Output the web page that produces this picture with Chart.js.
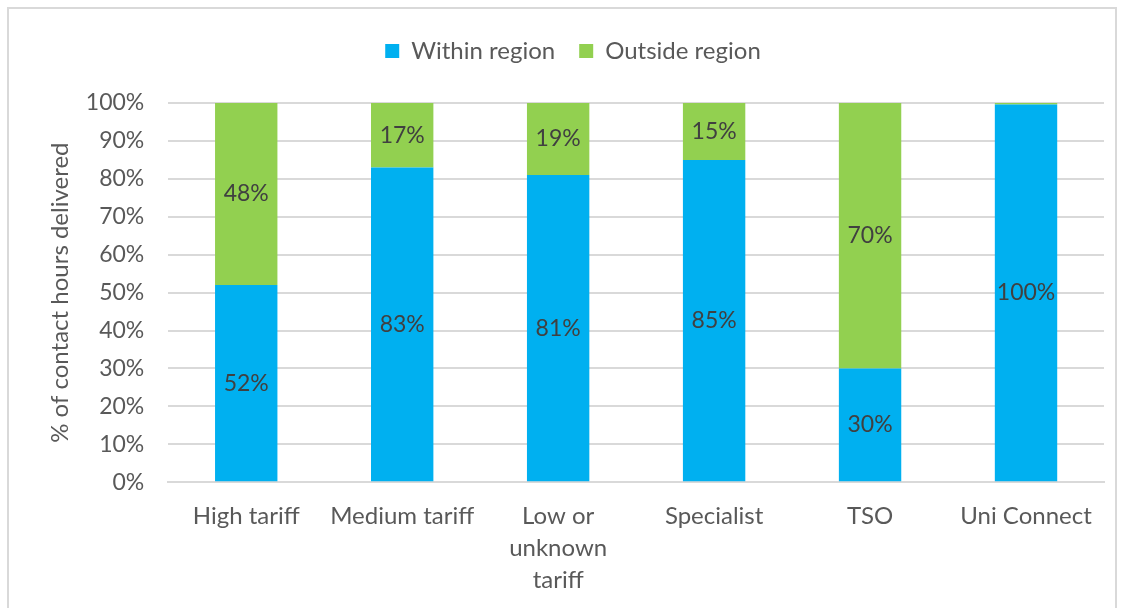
<!DOCTYPE html>
<html>
<head>
    <meta charset="utf-8">
    <title>Contact hours by region</title>
    <script src="https://cdn.jsdelivr.net/npm/chart.js"></script>
    <style>
        body { margin: 0; background: #fff; }
        #box { position: absolute; left: 7px; top: 7px; width: 1110px; height: 610px; border: 2px solid #d9d9d9; box-sizing: border-box; }
        #barChart { display: block; }
    </style>
</head>
<body>
<div id="box">
    <canvas id="barChart" width="1106" height="606"></canvas>
</div>

<script>
    const categories = ['High tariff', 'Medium tariff', ['Low or', 'unknown', 'tariff'], 'Specialist', 'TSO', 'Uni Connect'];
    const withinRegion = [52, 83, 81, 85, 30, 99.6];
    const outsideRegion = [48, 17, 19, 15, 70, 0.4];
    const yTicks = ['0%', '10%', '20%', '30%', '40%', '50%', '60%', '70%', '80%', '90%', '100%'];

    const font = "Lato, 'Open Sans', sans-serif";

    // draw the percentage inside each bar segment
    const barLabels = {
        id: 'barLabels',
        afterDatasetsDraw(chart) {
            const c = chart.ctx;
            c.save();
            c.font = '23px ' + font;
            c.fillStyle = '#404040';
            c.textAlign = 'center';
            c.textBaseline = 'middle';
            chart.data.datasets.forEach((ds, i) => {
                chart.getDatasetMeta(i).data.forEach((bar, j) => {
                    const v = ds.data[j];
                    if (v < 1) return;
                    const mid = (bar.y + bar.base) / 2;
                    c.fillText(Math.round(v) + '%', bar.x, mid);
                });
            });
            c.restore();
        }
    };

    // extra room under the legend
    const legendGap = {
        id: 'legendGap',
        beforeInit(chart) {
            const fit = chart.legend.fit;
            chart.legend.fit = function () {
                fit.bind(chart.legend)();
                this.height += 30;
            };
        }
    };

    const ctx = document.getElementById('barChart').getContext('2d');
    new Chart(ctx, {
        type: 'bar',
        data: {
            labels: categories,
            datasets: [{
                label: 'Within region',
                data: withinRegion,
                backgroundColor: '#00b0f0',
                categoryPercentage: 1,
                barPercentage: 0.4
            }, {
                label: 'Outside region',
                data: outsideRegion,
                backgroundColor: '#92d050',
                categoryPercentage: 1,
                barPercentage: 0.4
            }]
        },
        options: {
            responsive: false,
            animation: false,
            layout: { padding: { left: 33, right: 11, top: 6, bottom: 9 } },
            plugins: {
                legend: {
                    position: 'top',
                    labels: {
                        boxWidth: 14, boxHeight: 14, padding: 24,
                        color: '#595959',
                        font: { family: font, size: 24 }
                    }
                },
                tooltip: { enabled: false }
            },
            scales: {
                x: {
                    stacked: true,
                    grid: { display: false },
                    border: { color: '#d9d9d9', width: 2 },
                    ticks: { color: '#595959', font: { family: font, size: 24, lineHeight: 1.33 }, maxRotation: 0, padding: 10 }
                },
                y: {
                    stacked: true,
                    min: 0, max: 100,
                    grid: { color: '#d9d9d9', lineWidth: 2, drawTicks: false },
                    border: { display: false },
                    ticks: {
                        stepSize: 10, padding: 24,
                        color: '#595959', font: { family: font, size: 23 },
                        callback: (v, i) => yTicks[i]
                    },
                    title: {
                        display: true, text: '% of contact hours delivered',
                        color: '#595959', font: { family: font, size: 24 },
                        padding: { top: 4, bottom: -13 }
                    }
                }
            }
        },
        plugins: [barLabels, legendGap]
    });
</script>
</body>
</html>
